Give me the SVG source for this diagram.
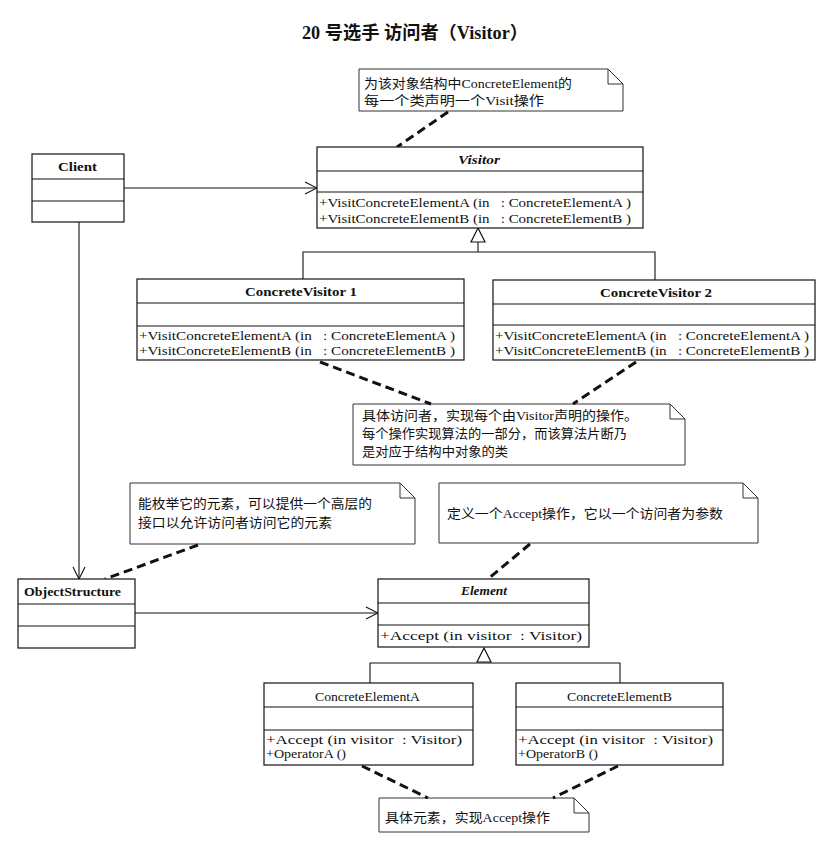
<svg xmlns="http://www.w3.org/2000/svg" width="827" height="841" viewBox="0 0 827 841">
  <style>
    .box { fill: #ffffff; stroke: #111111; stroke-width: 1.2; }
    .sep { stroke: #111111; stroke-width: 1.2; }
    .line { fill: none; stroke: #111111; stroke-width: 1.1; }
    .dash { fill: none; stroke: #111111; stroke-width: 3; stroke-dasharray: 9 5; }
    .note { fill: #ffffff; stroke: #333333; stroke-width: 1; }
    .name { font-family: "Liberation Serif", "Noto Sans CJK SC", serif; font-size: 13px; font-weight: bold; fill: #111111; }
    .name.plain { font-weight: normal; font-size: 13.5px; }
    .op { font-family: "Liberation Serif", "Noto Sans CJK SC", serif; font-size: 13px; fill: #111111; white-space: pre; }
    .ntext { font-family: "Liberation Serif", "Noto Sans CJK SC", serif; font-size: 13px; fill: #111111; }
    .title { font-family: "Liberation Serif", "Noto Sans CJK SC", serif; font-size: 18px; font-weight: bold; fill: #111111; }
  </style>
  <defs>
    <marker id="open" markerWidth="14" markerHeight="14" refX="13" refY="7" orient="auto" markerUnits="userSpaceOnUse">
      <path d="M1,1 L13,7 L1,13" fill="none" stroke="#111111" stroke-width="1.1"/>
    </marker>
  </defs>

  <rect width="827" height="841" fill="#ffffff"/>

  <text class="title" x="302" y="39" textLength="226" lengthAdjust="spacingAndGlyphs">20 号选手 访问者（Visitor）</text>

  <!-- notes -->
  <g id="note-visitor">
    <path class="note" d="M359,69 H608 L623,84 V111 H359 Z M608,69 V84 H623"/>
    <text class="ntext" x="364" y="88" textLength="208" lengthAdjust="spacingAndGlyphs">为该对象结构中ConcreteElement的</text>
    <text class="ntext" x="364" y="105" textLength="180" lengthAdjust="spacingAndGlyphs">每一个类声明一个Visit操作</text>
  </g>
  <g id="note-concretevisitor">
    <path class="note" d="M353,404 H670 L685,419 V465 H353 Z M670,404 V419 H685"/>
    <text class="ntext" x="362" y="420" textLength="276" lengthAdjust="spacingAndGlyphs">具体访问者，实现每个由Visitor声明的操作。</text>
    <text class="ntext" x="362" y="438" textLength="265" lengthAdjust="spacingAndGlyphs">每个操作实现算法的一部分，而该算法片断乃</text>
    <text class="ntext" x="362" y="456" textLength="146" lengthAdjust="spacingAndGlyphs">是对应于结构中对象的类</text>
  </g>
  <g id="note-objectstructure">
    <path class="note" d="M130,483 H400 L415,498 V544 H130 Z M400,483 V498 H415"/>
    <text class="ntext" x="138" y="508" textLength="234" lengthAdjust="spacingAndGlyphs">能枚举它的元素，可以提供一个高层的</text>
    <text class="ntext" x="138" y="527" textLength="194" lengthAdjust="spacingAndGlyphs">接口以允许访问者访问它的元素</text>
  </g>
  <g id="note-element">
    <path class="note" d="M439,483 H743 L758,498 V543 H439 Z M743,483 V498 H758"/>
    <text class="ntext" x="447" y="518" textLength="276" lengthAdjust="spacingAndGlyphs">定义一个Accept操作，它以一个访问者为参数</text>
  </g>
  <g id="note-concreteelement">
    <path class="note" d="M379,798 H574 L589,813 V832 H379 Z M574,798 V813 H589"/>
    <text class="ntext" x="385" y="822" textLength="165" lengthAdjust="spacingAndGlyphs">具体元素，实现Accept操作</text>
  </g>

  <!-- connectors -->
  <g id="connectors">
    <line class="line" x1="124" y1="188" x2="317" y2="188" marker-end="url(#open)"/>
    <line class="line" x1="79" y1="222" x2="79" y2="579" marker-end="url(#open)"/>
    <line class="line" x1="135" y1="613" x2="378" y2="613" marker-end="url(#open)"/>
    <!-- generalization: visitors -->
    <path class="line" d="M478,242 V252 M303,279 V252 H655 V280"/>
    <path class="box" d="M478,228 L485,242 L471,242 Z"/>
    <!-- generalization: elements -->
    <path class="line" d="M370,683 V663 H620 V683"/>
    <path class="box" d="M484,648 L491,662 L477,662 Z"/>
    <!-- note anchors -->
    <line class="dash" x1="448" y1="112" x2="397" y2="147"/>
    <line class="dash" x1="320" y1="362" x2="431" y2="404"/>
    <line class="dash" x1="636" y1="362" x2="573" y2="404"/>
    <line class="dash" x1="198" y1="545" x2="105" y2="579"/>
    <line class="dash" x1="530" y1="544" x2="488" y2="579"/>
    <line class="dash" x1="362" y1="766" x2="428" y2="798"/>
    <line class="dash" x1="618" y1="766" x2="553" y2="798"/>
  </g>

  <!-- classes -->
  <g id="client">
    <rect class="box" x="32" y="154" width="92" height="68"/>
    <line class="sep" x1="32" y1="179" x2="124" y2="179"/>
    <line class="sep" x1="32" y1="201" x2="124" y2="201"/>
    <text class="name" x="58" y="171" textLength="39" lengthAdjust="spacingAndGlyphs">Client</text>
  </g>

  <g id="visitor">
    <rect class="box" x="317" y="147" width="326" height="81"/>
    <line class="sep" x1="317" y1="171" x2="643" y2="171"/>
    <line class="sep" x1="317" y1="192" x2="643" y2="192"/>
    <text class="name" x="458" y="164" font-style="italic" textLength="42" lengthAdjust="spacingAndGlyphs">Visitor</text>
    <text class="op" x="319" y="207" textLength="312" lengthAdjust="spacingAndGlyphs">+VisitConcreteElementA (in   : ConcreteElementA )</text>
    <text class="op" x="319" y="223" textLength="312" lengthAdjust="spacingAndGlyphs">+VisitConcreteElementB (in   : ConcreteElementB )</text>
  </g>

  <g id="concrete-visitor-1">
    <rect class="box" x="137" y="279" width="327" height="81"/>
    <line class="sep" x1="137" y1="303" x2="464" y2="303"/>
    <line class="sep" x1="137" y1="326" x2="464" y2="326"/>
    <text class="name" x="245" y="296" textLength="112" lengthAdjust="spacingAndGlyphs">ConcreteVisitor 1</text>
    <text class="op" x="139" y="340" textLength="316" lengthAdjust="spacingAndGlyphs">+VisitConcreteElementA (in   : ConcreteElementA )</text>
    <text class="op" x="139" y="355" textLength="316" lengthAdjust="spacingAndGlyphs">+VisitConcreteElementB (in   : ConcreteElementB )</text>
  </g>

  <g id="concrete-visitor-2">
    <rect class="box" x="493" y="280" width="322" height="80"/>
    <line class="sep" x1="493" y1="304" x2="815" y2="304"/>
    <line class="sep" x1="493" y1="325" x2="815" y2="325"/>
    <text class="name" x="600" y="297" textLength="112" lengthAdjust="spacingAndGlyphs">ConcreteVisitor 2</text>
    <text class="op" x="495" y="340" textLength="314" lengthAdjust="spacingAndGlyphs">+VisitConcreteElementA (in   : ConcreteElementA )</text>
    <text class="op" x="495" y="355" textLength="314" lengthAdjust="spacingAndGlyphs">+VisitConcreteElementB (in   : ConcreteElementB )</text>
  </g>

  <g id="object-structure">
    <rect class="box" x="18" y="579" width="117" height="69"/>
    <line class="sep" x1="18" y1="604" x2="135" y2="604"/>
    <line class="sep" x1="18" y1="626" x2="135" y2="626"/>
    <text class="name" x="24" y="596" textLength="97" lengthAdjust="spacingAndGlyphs">ObjectStructure</text>
  </g>

  <g id="element">
    <rect class="box" x="378" y="579" width="211" height="68"/>
    <line class="sep" x1="378" y1="603" x2="589" y2="603"/>
    <line class="sep" x1="378" y1="625" x2="589" y2="625"/>
    <text class="name" x="461" y="595" font-style="italic" textLength="46" lengthAdjust="spacingAndGlyphs">Element</text>
    <text class="op" x="380" y="640" textLength="202" lengthAdjust="spacingAndGlyphs">+Accept (in visitor  : Visitor)</text>
  </g>

  <g id="concrete-element-a">
    <rect class="box" x="264" y="683" width="209" height="82"/>
    <line class="sep" x1="264" y1="707" x2="473" y2="707"/>
    <line class="sep" x1="264" y1="730" x2="473" y2="730"/>
    <text class="name plain" x="315" y="701" textLength="105" lengthAdjust="spacingAndGlyphs">ConcreteElementA</text>
    <text class="op" x="266" y="744" textLength="196" lengthAdjust="spacingAndGlyphs">+Accept (in visitor  : Visitor)</text>
    <text class="op" x="266" y="758" textLength="80" lengthAdjust="spacingAndGlyphs">+OperatorA ()</text>
  </g>

  <g id="concrete-element-b">
    <rect class="box" x="516" y="683" width="207" height="82"/>
    <line class="sep" x1="516" y1="707" x2="723" y2="707"/>
    <line class="sep" x1="516" y1="730" x2="723" y2="730"/>
    <text class="name plain" x="567" y="701" textLength="105" lengthAdjust="spacingAndGlyphs">ConcreteElementB</text>
    <text class="op" x="518" y="744" textLength="195" lengthAdjust="spacingAndGlyphs">+Accept (in visitor  : Visitor)</text>
    <text class="op" x="518" y="758" textLength="80" lengthAdjust="spacingAndGlyphs">+OperatorB ()</text>
  </g>
</svg>
